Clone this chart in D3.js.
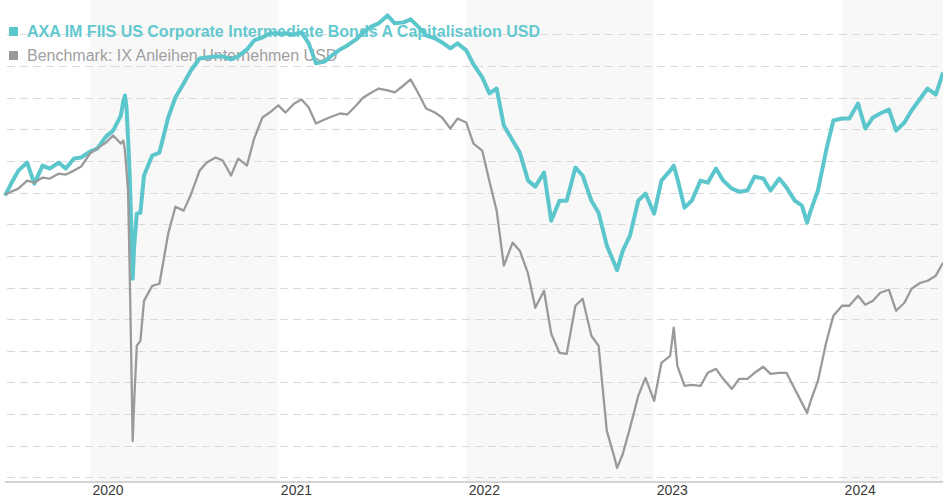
<!DOCTYPE html>
<html>
<head>
<meta charset="utf-8">
<script src="https://cdn.jsdelivr.net/npm/d3@7"></script>
<style>
  body { margin: 0; background: #fff; }
  svg { display: block; font-family: "Liberation Sans", Arial, sans-serif; }
</style>
</head>
<body>
<div id="chart"></div>
<script>
// Données (performance en %)
const dates = [
  "2019-07-20","2019-08-01","2019-08-15","2019-09-01","2019-09-15","2019-10-01","2019-10-15","2019-11-01","2019-11-15","2019-12-01","2019-12-15",
  "2020-01-01","2020-01-15","2020-02-01","2020-02-15","2020-03-01","2020-03-06","2020-03-09","2020-03-12","2020-03-15","2020-03-18","2020-03-21","2020-03-24","2020-03-27","2020-04-01","2020-04-08","2020-04-15",
  "2020-05-01","2020-05-15","2020-06-01","2020-06-15","2020-07-01","2020-07-15","2020-08-01","2020-08-15","2020-09-01","2020-09-15","2020-10-01","2020-10-15","2020-11-01","2020-11-15","2020-12-01","2020-12-15",
  "2021-01-01","2021-01-15","2021-02-01","2021-02-15","2021-03-01","2021-03-15","2021-04-01","2021-04-15","2021-05-01","2021-05-15","2021-06-01","2021-06-15",
  "2021-07-01","2021-07-15","2021-08-01","2021-08-15","2021-09-01","2021-09-15","2021-10-01","2021-10-15","2021-11-01","2021-11-15","2021-12-01","2021-12-15",
  "2022-01-01","2022-01-15","2022-02-01","2022-02-15","2022-03-01","2022-03-15","2022-04-01","2022-04-15","2022-05-01","2022-05-15","2022-06-01","2022-06-15",
  "2022-07-01","2022-07-15","2022-08-01","2022-08-15","2022-09-01","2022-09-15","2022-10-01","2022-10-15","2022-10-21","2022-11-01","2022-11-15","2022-12-01","2022-12-15",
  "2023-01-01","2023-01-15","2023-02-01","2023-02-08","2023-02-15","2023-03-01","2023-03-15","2023-04-01","2023-04-15","2023-05-01","2023-05-15","2023-06-01","2023-06-15",
  "2023-07-01","2023-07-15","2023-08-01","2023-08-15","2023-09-01","2023-09-15","2023-10-01","2023-10-15","2023-10-25","2023-11-01","2023-11-15","2023-12-01","2023-12-15",
  "2024-01-01","2024-01-15","2024-02-01","2024-02-15","2024-03-01","2024-03-15","2024-04-01","2024-04-15","2024-05-01","2024-05-15","2024-06-01","2024-06-15","2024-07-01","2024-07-15"
];

const fundValues = [
  -0.19,0.57,1.39,1.90,0.57,1.71,1.52,1.90,1.52,2.15,2.22,
  2.59,2.78,3.54,3.92,4.87,5.82,6.14,5.38,3.48,1.27,-1.77,-5.44,-3.35,-1.33,-1.27,1.08,
  2.34,2.53,4.75,6.01,6.90,7.72,8.48,8.54,8.61,8.61,8.42,8.61,9.05,9.62,9.81,10.06,
  10.06,10.06,10.00,10.13,9.43,8.17,8.29,8.67,9.05,9.30,9.68,10.13,
  10.51,10.70,11.20,10.70,10.76,10.95,10.44,9.94,9.75,9.49,9.11,9.43,
  8.99,8.10,7.28,6.27,6.58,4.24,3.29,2.53,0.76,0.38,1.27,-1.77,
  -0.51,-0.51,1.58,1.08,-0.51,-1.27,-3.35,-4.43,-4.90,-3.67,-2.72,-0.51,-0.06,
  -1.33,0.76,1.39,1.71,0.89,-0.95,-0.51,0.76,0.63,1.52,0.76,0.25,0.06,
  0.13,1.01,0.89,0.13,0.89,0.32,-0.51,-0.82,-1.90,-1.14,0.13,2.66,4.56,
  4.68,4.68,5.63,4.05,4.75,5.00,5.25,3.92,4.43,5.19,5.95,6.58,6.20,7.59
];

const benchmarkValues = [
  -0.13,0.06,0.25,0.76,0.63,0.95,0.89,1.20,1.14,1.39,1.65,
  2.47,2.78,3.16,3.61,3.10,3.29,2.66,1.39,0.13,-4.62,-10.00,-15.70,-13.16,-9.68,-9.37,-6.84,
  -5.89,-5.76,-2.59,-0.89,-1.14,-0.13,1.39,1.90,2.22,2.03,1.08,2.15,1.71,3.42,4.75,5.06,
  5.51,5.06,5.63,5.88,5.38,4.37,4.62,4.81,5.00,4.94,5.51,6.01,
  6.33,6.58,6.46,6.33,6.77,7.15,6.20,5.32,5.06,4.75,4.05,4.68,
  4.43,3.10,2.66,0.70,-1.14,-4.62,-3.16,-3.67,-5.12,-7.28,-6.20,-8.92,
  -10.13,-10.19,-7.15,-6.71,-9.05,-9.68,-15.06,-16.65,-17.40,-16.52,-14.87,-12.85,-11.71,
  -13.16,-10.76,-10.32,-8.54,-10.95,-12.22,-12.15,-12.22,-11.39,-11.14,-11.77,-12.41,-11.77,
  -11.77,-11.39,-11.01,-11.46,-11.39,-11.39,-12.41,-13.29,-13.92,-13.16,-11.90,-9.49,-7.78,
  -7.15,-7.15,-6.52,-7.09,-6.84,-6.33,-6.14,-7.47,-6.96,-6.08,-5.70,-5.57,-5.25,-4.43
];

const seriesNames = [
  "AXA IM FIIS US Corporate Intermediate Bonds A Capitalisation USD",
  "Benchmark: IX Anleihen Unternehmen USD"
];
const seriesColors = ["#5cc6cd", "#9a9a9a"];
const shadedYears = [2020, 2022, 2024];
const gridValues = [-18, -16, -14, -12, -10, -8, -6, -4, -2, 0, 2, 4, 6, 8, 10];

// Configuration
const width = 943;
const height = 500;
const axisY = 482;

const parseDate = d3.timeParse("%Y-%m-%d");
const fund = dates.map((d, i) => ({date: parseDate(d), value: fundValues[i]}));
const benchmark = dates.map((d, i) => ({date: parseDate(d), value: benchmarkValues[i]}));

const svg = d3.select("#chart")
    .append("svg")
    .attr("width", width)
    .attr("height", height);

// Échelles
const xScale = d3.scaleTime()
    .domain([parseDate("2019-07-20"), parseDate("2024-07-15")])
    .range([5, width]);

const yScale = d3.scaleLinear()
    .domain([-18, 10])
    .range([477.4, 34.4]);

// Bandes des années
svg.append("g")
    .selectAll("rect")
    .data(shadedYears)
    .enter().append("rect")
    .attr("x", d => xScale(new Date(d, 0, 1)))
    .attr("y", 0)
    .attr("width", d => Math.min(width, xScale(new Date(d + 1, 0, 1))) - xScale(new Date(d, 0, 1)))
    .attr("height", axisY)
    .style("fill", "#f8f8f8");

// Lignes de grille
svg.append("g")
    .selectAll("line")
    .data(gridValues)
    .enter().append("line")
    .attr("x1", 7)
    .attr("x2", width)
    .attr("y1", d => Math.round(yScale(d)) + 0.5)
    .attr("y2", d => Math.round(yScale(d)) + 0.5)
    .style("stroke", "#dadada")
    .style("stroke-width", 1)
    .style("stroke-dasharray", "8,5");

// Axe X
const xAxis = d3.axisBottom(xScale)
    .ticks(d3.timeYear.every(1))
    .tickFormat(d3.timeFormat("%Y"))
    .tickSize(0);

const gx = svg.append("g")
    .attr("transform", `translate(0,${axisY})`)
    .call(xAxis);

gx.select(".domain")
    .attr("d", `M5,0H${width}`)
    .style("stroke", "#d4d4d4")
    .style("stroke-width", 2);

gx.selectAll("text")
    .attr("x", 2)
    .attr("y", 13)
    .attr("dy", 0)
    .style("text-anchor", "start")
    .style("font-family", "'Liberation Sans', Arial, sans-serif")
    .style("font-size", "14px")
    .style("fill", "#3a3a3a");

// Légende (sous les courbes)
const legend = svg.append("g");
const legendRows = legend.selectAll("g")
    .data(seriesNames)
    .enter().append("g")
    .attr("transform", (d, i) => `translate(0,${37 + i * 24})`);

legendRows.append("rect")
    .attr("x", 9)
    .attr("y", -10)
    .attr("width", 9)
    .attr("height", 9)
    .style("fill", (d, i) => seriesColors[i]);

legendRows.append("text")
    .attr("x", 27)
    .attr("y", 0)
    .style("font-size", "16px")
    .style("font-weight", (d, i) => i === 0 ? "bold" : "normal")
    .style("fill", (d, i) => i === 0 ? "#63c9cf" : "#a0a0a0")
    .text(d => d);

// Courbes
const line = d3.line()
    .x(d => xScale(d.date))
    .y(d => yScale(d.value));

svg.append("path")
    .datum(fund)
    .attr("d", line)
    .style("fill", "none")
    .style("stroke", seriesColors[0])
    .style("stroke-width", 4)
    .style("stroke-linejoin", "round");

svg.append("path")
    .datum(benchmark)
    .attr("d", line)
    .style("fill", "none")
    .style("stroke", seriesColors[1])
    .style("stroke-width", 2.3)
    .style("stroke-linejoin", "round");
</script>
</body>
</html>
